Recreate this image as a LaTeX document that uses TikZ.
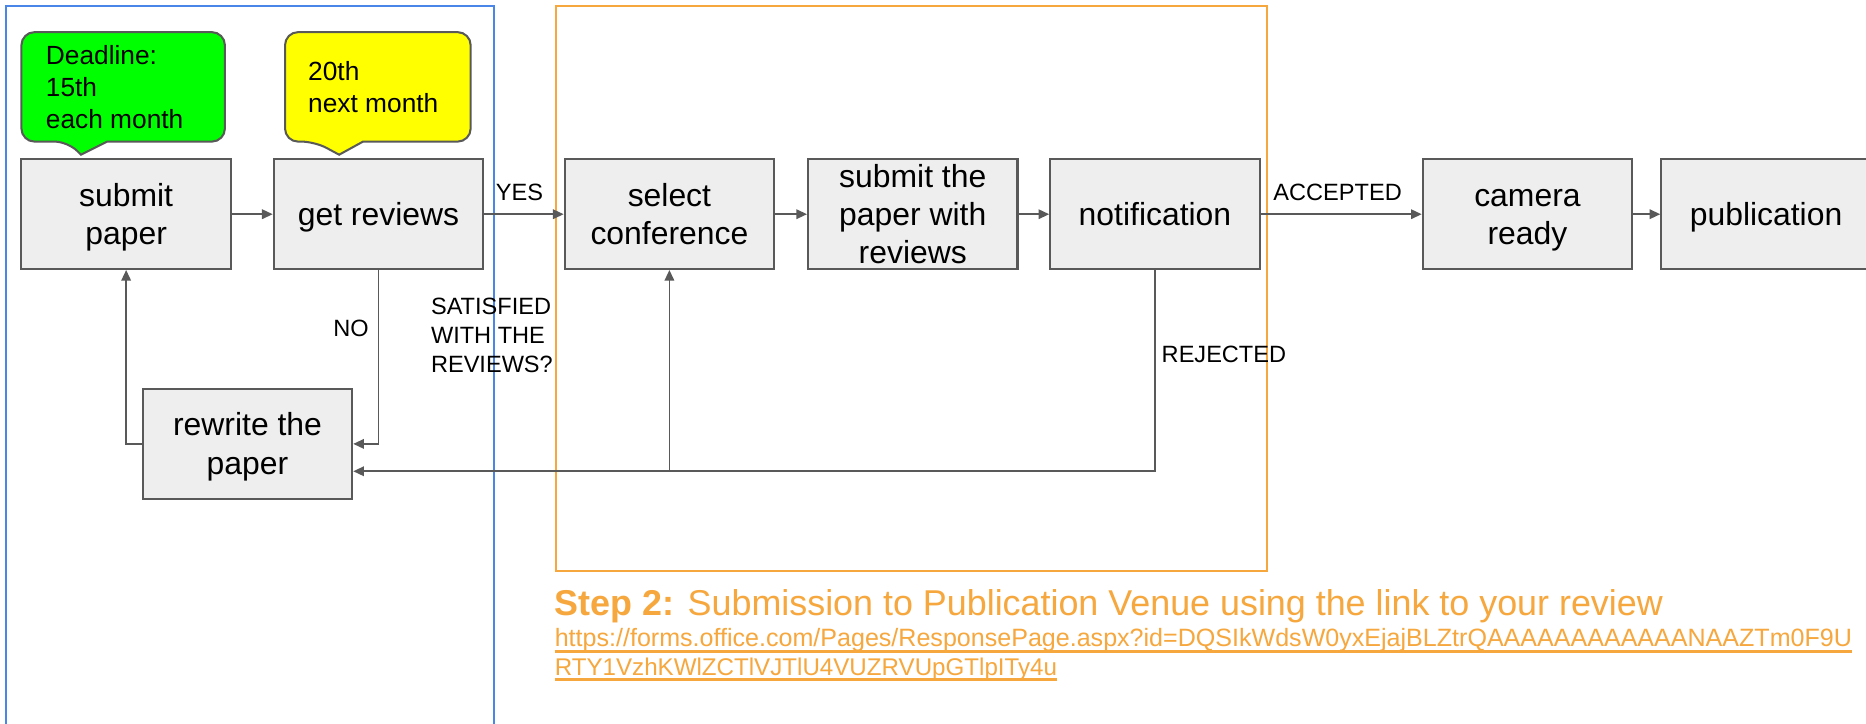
\documentclass[tikz,border=0pt]{standalone}
\usepackage{graphicx}
\usepackage{fontspec}
\setmainfont{Liberation Sans}
\usetikzlibrary{arrows.meta}
\definecolor{boxfill}{HTML}{EEEEEE}
\definecolor{edgegray}{HTML}{595959}
\definecolor{frameblue}{HTML}{4A86E8}
\definecolor{frameorange}{HTML}{F6A73D}
\definecolor{callgreen}{HTML}{00FF00}
\definecolor{callyellow}{HTML}{FFFF00}
\newcommand{\bxs}{\rule[-6.7pt]{0pt}{32pt}}
\begin{document}
\begin{tikzpicture}[x=1pt,y=-1pt,
  stepbox/.style={draw=edgegray, line width=1.7pt, fill=boxfill, minimum width=176pt, minimum height=92pt, inner sep=0pt, align=center, font=\fontsize{26.8}{32}\selectfont},
  conn/.style={draw=edgegray, line width=1.5pt, -{Triangle[length=9pt,width=8pt]}},
  lbl/.style={inner sep=0pt, align=left, font=\fontsize{19.8}{24.3}\selectfont},
  calltext/.style={inner sep=0pt, align=left, font=\fontsize{22.1}{26.9}\selectfont},
  callshape/.style={draw=edgegray, line width=1.7pt},
  orangetext/.style={inner sep=0pt, anchor=base west, text=frameorange},
  urlline/.style={draw=frameorange, line width=2pt},
]
\useasboundingbox (0,0) rectangle (1568,608);
\clip (0,0) rectangle (1568,608);
\fill[white] (0,0) rectangle (1568,608);

% frames
\draw[frameblue, line width=1.6pt] (5,5) rectangle (415,640);
\draw[frameorange, line width=1.8pt] (467,5) rectangle (1065,480);

% callouts
\draw[callshape, fill=callgreen] (100,27) [rounded corners=11pt] -- (18,27) -- (18,119) -- (57,119) [sharp corners] -- (68,130) -- (90,119) [rounded corners=11pt] -- (189,119) -- (189,27) -- cycle;
\draw[callshape, fill=callyellow] (320,27) [rounded corners=11pt] -- (239.5,27) -- (239.5,119) -- (264.5,119) [sharp corners] -- (285,130) -- (305,119) [rounded corners=11pt] -- (395.5,119) -- (395.5,27) -- cycle;
\node[calltext, anchor=west] (dl) at (38.4,73.5) {Deadline:\\15th\\each month};
\node[calltext, anchor=west] (nm) at (258.8,73.3) {20th\\next month};

% boxes
\node[stepbox] (sp) at (106,180) {\bxs submit\\\bxs paper};
\node[stepbox] (gr) at (318,180) {\bxs get reviews};
\node[stepbox] (sc) at (562.5,180) {\bxs select\\\bxs conference};
\node[stepbox, inner ysep=-2pt] (sw) at (767,180) {\bxs submit the\\\bxs paper with\\\bxs reviews};
\node[stepbox] (nt) at (970.5,180) {\bxs notification};
\node[stepbox] (cr) at (1283.5,180) {\bxs camera\\\bxs ready};
\node[stepbox] (pub) at (1484,180) {\bxs publication};
\node[stepbox] (rw) at (208,373) {\bxs rewrite the\\\bxs paper};

% connectors
\draw[conn] (sp) -- (gr);
\draw[conn] (gr) -- (sc);
\draw[conn] (sc) -- (sw);
\draw[conn] (sw) -- (nt);
\draw[conn] (nt) -- (cr);
\draw[conn] (cr) -- (pub);
\draw[conn] (gr.south) |- (rw.east);
\draw[conn] (rw.west) -| (sp.south);
\coordinate (rwin) at ([yshift=-23pt]rw.east);
\draw[conn] (nt.south) |- (rwin);
\coordinate (br) at (sc.south |- rwin);
\draw[conn] (br) -- (sc.south);

% labels
\node[lbl] (yes) at (436.5,162) {YES};
\node[lbl] (acc) at (1124,162) {ACCEPTED};
\node[lbl, anchor=east] (no) at (310,276) {NO};
\node[lbl, anchor=west] (sat) at (362,282) {SATISFIED\\WITH THE\\REVIEWS?};
\node[lbl, anchor=west] (rej) at (976,298) {REJECTED};

% step 2 text
\node[orangetext] (step) at (466,517) {\resizebox{931pt}{!}{\textbf{Step 2:} Submission to Publication Venue using the link to your review}};
\node[orangetext] (u1) at (466,543) {\resizebox{1090pt}{!}{https://forms.office.com/Pages/ResponsePage.aspx?id=DQSIkWdsW0yxEjajBLZtrQAAAAAAAAAAAANAAZTm0F9U}};
\node[orangetext] (u2) at (466,568) {\resizebox{422pt}{!}{RTY1VzhKWlZCTlVJTlU4VUZRVUpGTlpITy4u}};
\draw[urlline] ([yshift=-4.5pt]u1.base west) -- ([yshift=-4.5pt]u1.base east);
\draw[urlline] ([yshift=-3pt]u2.base west) -- ([yshift=-3pt]u2.base east);
\end{tikzpicture}
\end{document}
